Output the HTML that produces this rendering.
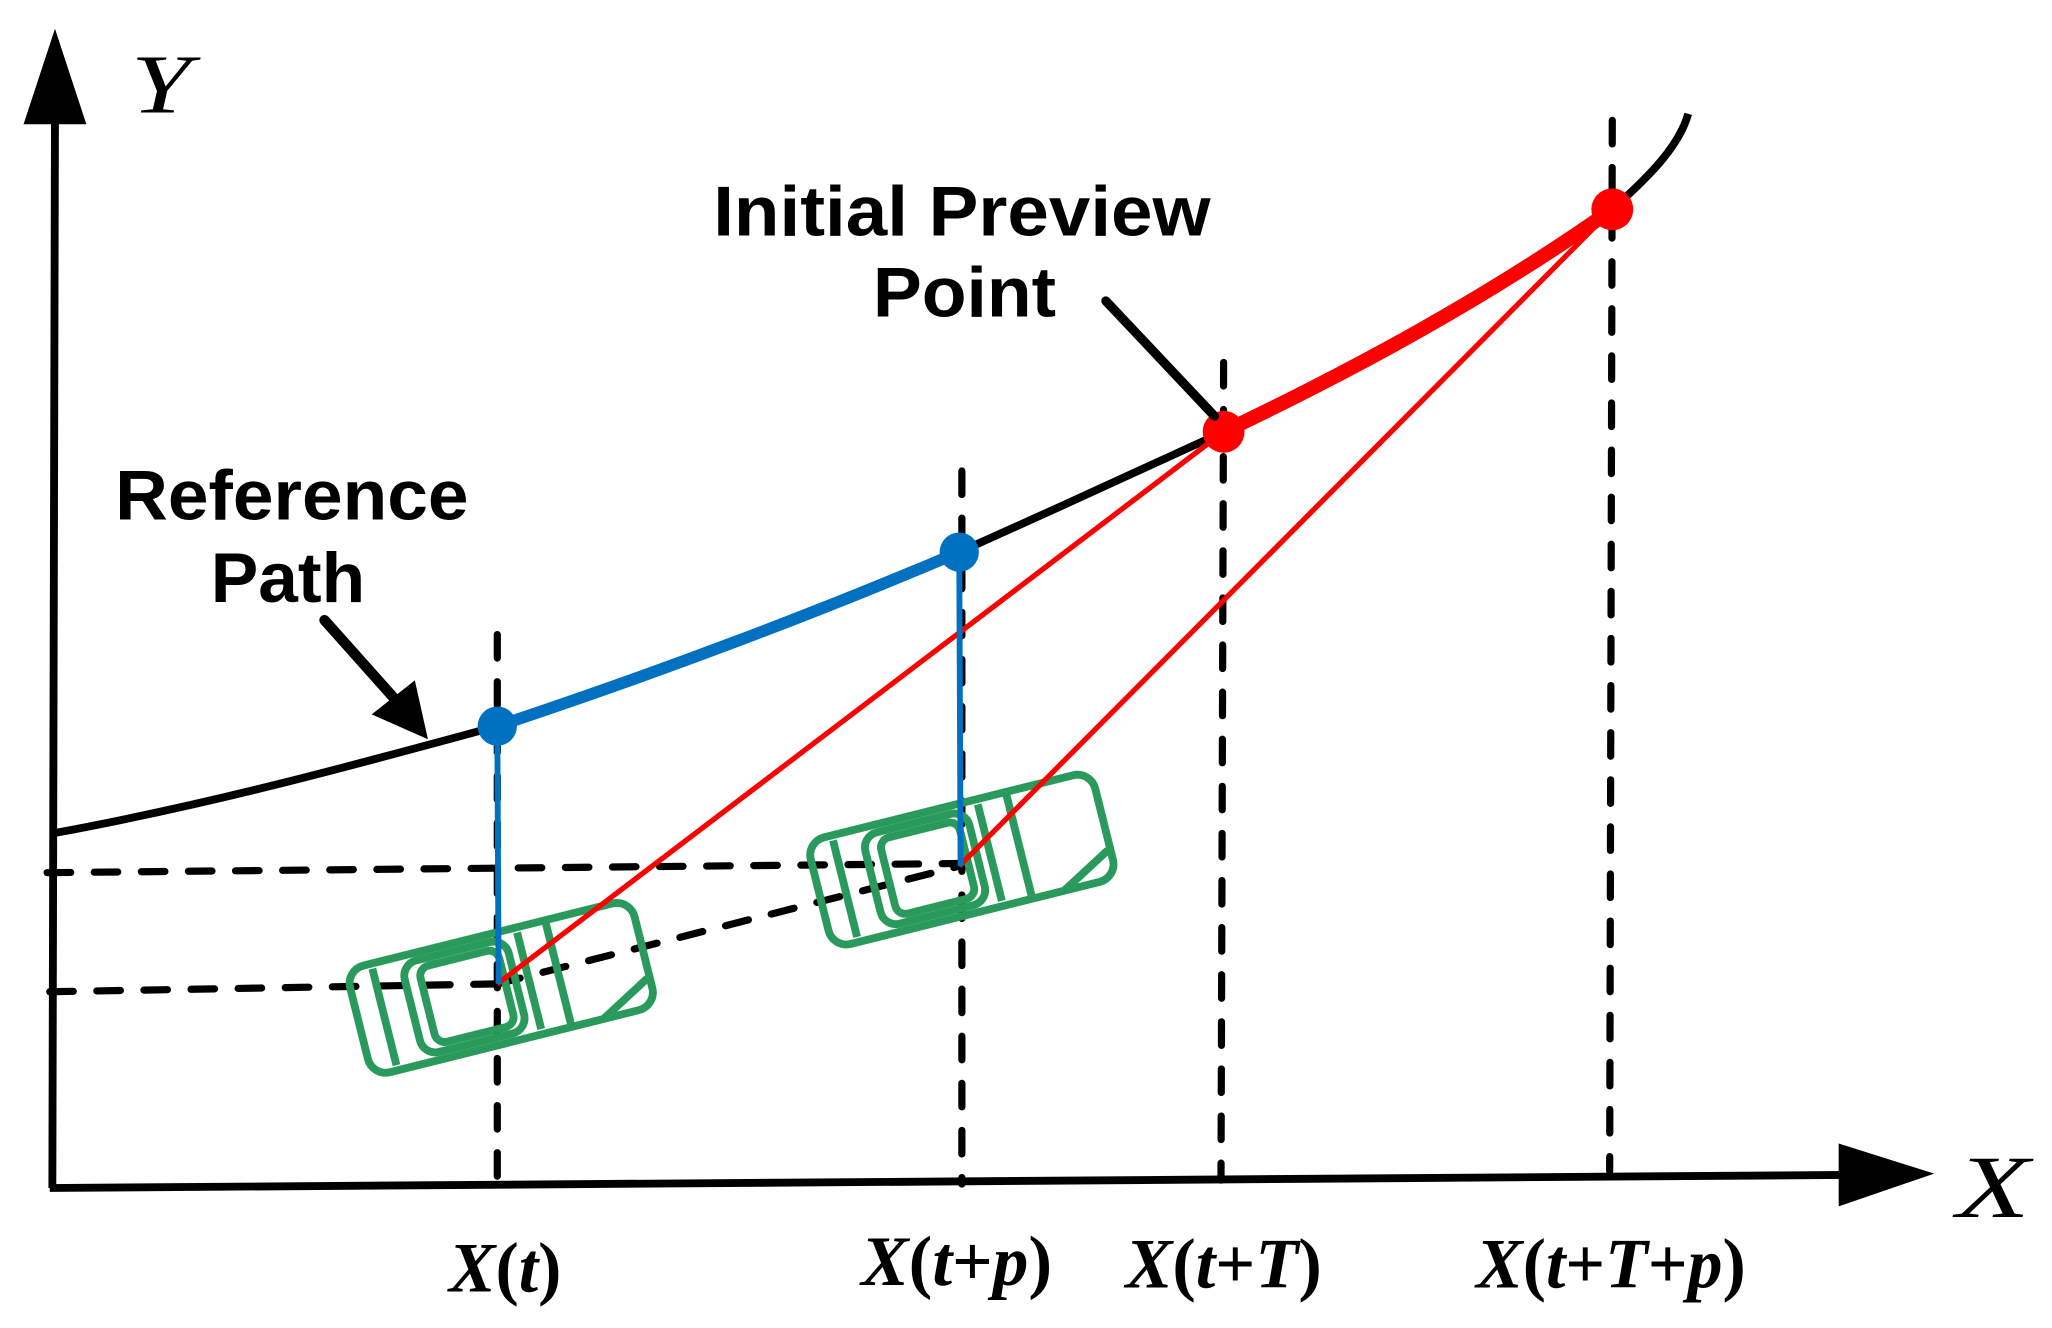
<!DOCTYPE html>
<html><head><meta charset="utf-8"><style>
html,body{margin:0;padding:0;background:#fff;}
svg{display:block;}
</style></head><body>
<svg width="2052" height="1328" viewBox="0 0 1568 1015" preserveAspectRatio="none" xmlns="http://www.w3.org/2000/svg">
<!-- axes -->
<line x1="40" y1="908" x2="42" y2="90" stroke="#000" stroke-width="6"/>
<polygon points="42,22 18,95 66,95" fill="#000"/>
<line x1="38" y1="908" x2="1410" y2="898" stroke="#000" stroke-width="6"/>
<polygon points="1478,897 1405,874 1405,922" fill="#000"/>
<text x="100" y="86" font-family="Liberation Serif, serif" font-style="italic" font-size="64" textLength="46" lengthAdjust="spacingAndGlyphs">Y</text>
<text x="1495" y="930" font-family="Liberation Serif, serif" font-style="italic" font-size="68" textLength="56" lengthAdjust="spacingAndGlyphs">X</text>

<!-- dashed lines -->
<g stroke="#000" stroke-width="5.5" stroke-linecap="round" stroke-dasharray="18 18" fill="none">
<line x1="380" y1="485" x2="380" y2="906"/>
<line x1="735" y1="360" x2="735" y2="905"/>
<line x1="935" y1="277" x2="933" y2="902"/>
<line x1="1232" y1="92" x2="1230" y2="895"/>
<line x1="36" y1="667" x2="733" y2="660"/>
<line x1="38" y1="758" x2="380" y2="752"/>
<line x1="380" y1="752" x2="733" y2="662"/>
</g>

<!-- cars -->
<g fill="none" stroke="#2a9a5c" stroke-width="6" stroke-linejoin="round">
 <g transform="translate(383,755) rotate(-14)">
  <rect x="-112" y="-42" width="224" height="84" rx="14"/>
  <line x1="-92" y1="-38" x2="-92" y2="38"/>
  <rect x="-70" y="-36" width="82" height="72" rx="12"/>
  <rect x="-58" y="-30" width="62" height="60" rx="8"/>
  <line x1="22" y1="-38" x2="22" y2="38"/>
  <line x1="45" y1="-40" x2="45" y2="40"/>
  <line x1="70" y1="42" x2="110" y2="20"/>
 </g>
 <g transform="translate(735,657) rotate(-14)">
  <rect x="-112" y="-42" width="224" height="84" rx="14"/>
  <line x1="-92" y1="-38" x2="-92" y2="38"/>
  <rect x="-70" y="-36" width="82" height="72" rx="12"/>
  <rect x="-58" y="-30" width="62" height="60" rx="8"/>
  <line x1="22" y1="-38" x2="22" y2="38"/>
  <line x1="45" y1="-40" x2="45" y2="40"/>
  <line x1="70" y1="42" x2="110" y2="20"/>
 </g>
</g>

<!-- reference curve -->
<path d="M40,637 C160,615 270,585 380,555 C500,515 620,470 733,422 C800,392 870,360 935,330 C1040,280 1140,225 1232,160 C1260,135 1283,112 1290,87" fill="none" stroke="#000" stroke-width="6"/>
<path d="M380,555 C500,515 620,470 733,422" fill="none" stroke="#0070c0" stroke-width="9"/>
<path d="M935,330 C1040,280 1140,225 1232,160" fill="none" stroke="#ff0000" stroke-width="11"/>

<!-- red thin lines -->
<line x1="380" y1="752" x2="935" y2="330" stroke="#ff0000" stroke-width="4"/>
<line x1="733" y1="662" x2="1232" y2="160" stroke="#ff0000" stroke-width="4"/>
<!-- blue verticals -->
<line x1="380" y1="555" x2="381" y2="752" stroke="#0070c0" stroke-width="4.5"/>
<line x1="733" y1="422" x2="734" y2="662" stroke="#0070c0" stroke-width="4.5"/>

<circle cx="380" cy="555" r="15" fill="#0070c0"/>
<circle cx="733" cy="422" r="15" fill="#0070c0"/>
<circle cx="935" cy="330" r="16" fill="#ff0000"/>
<circle cx="1232" cy="160" r="16" fill="#ff0000"/>

<!-- pointers -->
<line x1="845" y1="230" x2="928" y2="318" stroke="#000" stroke-width="7" stroke-linecap="round"/>
<line x1="248" y1="474" x2="305" y2="538" stroke="#000" stroke-width="8" stroke-linecap="round"/>
<polygon points="327,565 284,546 317,520" fill="#000"/>

<!-- text labels -->
<g font-family="Liberation Sans, sans-serif" font-weight="bold" font-size="54" text-anchor="middle">
<text x="735" y="180" textLength="380" lengthAdjust="spacingAndGlyphs">Initial Preview</text>
<text x="737" y="242" textLength="140" lengthAdjust="spacingAndGlyphs">Point</text>
<text x="223" y="397" textLength="270" lengthAdjust="spacingAndGlyphs">Reference</text>
<text x="220" y="460" textLength="118" lengthAdjust="spacingAndGlyphs">Path</text>
</g>
<g font-family="Liberation Serif, serif" font-weight="bold" font-size="54" text-anchor="middle" lengthAdjust="spacingAndGlyphs">
<text x="386" y="987" textLength="86" lengthAdjust="spacingAndGlyphs"><tspan font-style="italic">X</tspan>(<tspan font-style="italic">t</tspan>)</text>
<text x="731" y="982" textLength="146" lengthAdjust="spacingAndGlyphs"><tspan font-style="italic">X</tspan>(<tspan font-style="italic">t</tspan>+<tspan font-style="italic">p</tspan>)</text>
<text x="935" y="984" textLength="150" lengthAdjust="spacingAndGlyphs"><tspan font-style="italic">X</tspan>(<tspan font-style="italic">t</tspan>+<tspan font-style="italic">T</tspan>)</text>
<text x="1231" y="984" textLength="206" lengthAdjust="spacingAndGlyphs"><tspan font-style="italic">X</tspan>(<tspan font-style="italic">t</tspan>+<tspan font-style="italic">T</tspan>+<tspan font-style="italic">p</tspan>)</text>
</g>
</svg>
</body></html>
